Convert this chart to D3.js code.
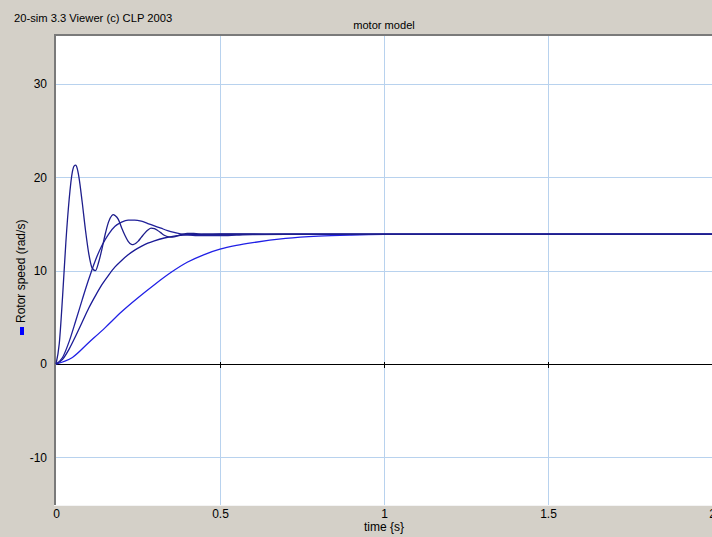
<!DOCTYPE html>
<html>
<head>
<meta charset="utf-8">
<script src="https://cdn.jsdelivr.net/npm/d3@7/dist/d3.min.js"></script>
<style>
  html, body { margin: 0; padding: 0; background: #d4d0c8; }
  svg { display: block; }
  text { font-family: "Liberation Sans", Arial, sans-serif; fill: #000; }
</style>
</head>
<body>
<svg id="chart" width="712" height="537"></svg>
<script>
// ---- data ----
const xTicks = [0, 0.5, 1, 1.5, 2];
const xTickLabels = ["0", "0.5", "1", "1.5", "2"];
const yTicks = [-10, 0, 10, 20, 30];
const yTickLabels = ["-10", "0", "10", "20", "30"];

// run 1: strongly oscillating response
const time1  = [0, 0.01, 0.02, 0.03, 0.04, 0.05, 0.055, 0.06, 0.065, 0.07, 0.08, 0.09, 0.10, 0.11, 0.12, 0.13, 0.14, 0.15, 0.16, 0.17, 0.175, 0.18, 0.19, 0.20, 0.21, 0.22, 0.23, 0.235, 0.24, 0.25, 0.26, 0.27, 0.28, 0.29, 0.30, 0.31, 0.32, 0.33, 0.34, 0.35, 0.36, 0.37, 0.38, 0.39, 0.40, 0.42, 0.45, 0.5, 0.6, 0.8, 1.0, 1.5, 2.0];
const speed1 = [0, 2.2, 7.2, 13.0, 17.6, 20.6, 21.2, 21.3, 20.9, 20.0, 17.3, 14.3, 11.8, 10.3, 10.0, 10.9, 12.3, 13.9, 15.2, 15.9, 16.0, 15.9, 15.5, 14.6, 13.8, 13.15, 12.82, 12.8, 12.86, 13.14, 13.57, 14.0, 14.35, 14.55, 14.5, 14.3, 14.05, 13.8, 13.65, 13.6, 13.63, 13.73, 13.85, 13.95, 14.0, 14.0, 13.9, 13.9, 13.9, 13.9, 13.9, 13.9, 13.9];

// run 2: moderate overshoot
const time2  = [0, 0.02, 0.04, 0.06, 0.08, 0.10, 0.12, 0.14, 0.16, 0.18, 0.20, 0.22, 0.24, 0.26, 0.28, 0.30, 0.32, 0.34, 0.36, 0.38, 0.40, 0.45, 0.50, 0.55, 0.60, 0.70, 1.0, 1.5, 2.0];
const speed2 = [0, 0.7, 2.4, 4.6, 6.9, 9.1, 11.1, 12.7, 13.9, 14.75, 15.2, 15.42, 15.42, 15.3, 15.05, 14.8, 14.55, 14.3, 14.1, 13.95, 13.84, 13.75, 13.75, 13.8, 13.86, 13.9, 13.9, 13.9, 13.9];

// run 3: well damped
const time3  = [0, 0.02, 0.04, 0.06, 0.08, 0.10, 0.12, 0.14, 0.16, 0.18, 0.20, 0.22, 0.24, 0.26, 0.28, 0.30, 0.33, 0.36, 0.40, 0.45, 0.50, 0.60, 0.70, 1.0, 1.5, 2.0];
const speed3 = [0, 0.5, 1.6, 3.0, 4.5, 6.0, 7.3, 8.5, 9.5, 10.4, 11.1, 11.7, 12.2, 12.6, 12.95, 13.2, 13.5, 13.7, 13.85, 13.9, 13.95, 13.95, 13.9, 13.9, 13.9, 13.9];

// run 4: slow response
const time4  = [0, 0.05, 0.10, 0.15, 0.20, 0.25, 0.30, 0.35, 0.40, 0.45, 0.50, 0.55, 0.60, 0.70, 0.80, 0.90, 1.0, 1.2, 1.5, 2.0];
const speed4 = [0, 0.7, 2.3, 3.9, 5.6, 7.1, 8.5, 9.8, 10.9, 11.7, 12.3, 12.7, 13.0, 13.45, 13.7, 13.82, 13.88, 13.9, 13.9, 13.9];

const runs = [
  { t: time1, v: speed1, color: "#1e1e8c" },
  { t: time2, v: speed2, color: "#20209a" },
  { t: time3, v: speed3, color: "#1a1a96" },
  { t: time4, v: speed4, color: "#2020e6" }
];

// ---- layout ----
const svg = d3.select("#chart");
const W = 712, H = 537;
const pLeft = 56, pRight = 712, pTop = 36, pBottom = 505;

const x = d3.scaleLinear().domain([0, 2]).range([pLeft, pRight]);
const y = d3.scaleLinear().domain([-15, 35]).range([504, 37.33]);

svg.append("rect").attr("width", W).attr("height", H).attr("fill", "#d4d0c8");

// header texts
svg.append("text").attr("x", 14).attr("y", 21.5)
  .style("font-size", "11.2px").text("20-sim 3.3 Viewer (c) CLP 2003");
svg.append("text").attr("x", x(1)).attr("y", 29.3).attr("text-anchor", "middle")
  .style("font-size", "11.1px").text("motor model");

// plot area
svg.append("rect").attr("x", pLeft).attr("y", pTop)
  .attr("width", pRight - pLeft).attr("height", pBottom - pTop).attr("fill", "#ffffff");
svg.append("line").attr("x1", 54).attr("x2", W).attr("y1", 35).attr("y2", 35)
  .attr("stroke", "#7a7a7a").attr("stroke-width", 2);
svg.append("line").attr("x1", 55).attr("x2", 55).attr("y1", 34).attr("y2", pBottom)
  .attr("stroke", "#7a7a7a").attr("stroke-width", 2);
svg.append("line").attr("x1", 54).attr("x2", W).attr("y1", pBottom + 0.5).attr("y2", pBottom + 0.5)
  .attr("stroke", "#f4f4f4").attr("stroke-width", 1);

// grid
const grid = svg.append("g").attr("shape-rendering", "crispEdges");
grid.selectAll(".gx").data(xTicks.filter(d => d > 0 && d < 2)).enter().append("line")
  .attr("x1", d => Math.round(x(d)) + 0.5).attr("x2", d => Math.round(x(d)) + 0.5)
  .attr("y1", pTop).attr("y2", pBottom)
  .attr("stroke", "#b8d2ee").attr("stroke-width", 1);
grid.selectAll(".gy").data(yTicks.filter(d => d !== 0)).enter().append("line")
  .attr("x1", pLeft).attr("x2", pRight)
  .attr("y1", d => Math.round(y(d)) + 0.5).attr("y2", d => Math.round(y(d)) + 0.5)
  .attr("stroke", "#b8d2ee").attr("stroke-width", 1);

// zero axis with ticks
const zeroY = Math.round(y(0)) + 0.5;
svg.append("line").attr("x1", pLeft).attr("x2", pRight).attr("y1", zeroY).attr("y2", zeroY)
  .attr("stroke", "#000").attr("stroke-width", 1).attr("shape-rendering", "crispEdges");
svg.selectAll(".zt").data(xTicks.filter(d => d > 0 && d < 2)).enter().append("line")
  .attr("x1", d => Math.round(x(d)) + 0.5).attr("x2", d => Math.round(x(d)) + 0.5)
  .attr("y1", zeroY - 3).attr("y2", zeroY + 3)
  .attr("stroke", "#000").attr("stroke-width", 1).attr("shape-rendering", "crispEdges");

// axes (labels only)
const yAxis = svg.append("g").attr("transform", `translate(55,0)`)
  .call(d3.axisLeft(y).tickValues(yTicks).tickFormat((d, i) => yTickLabels[i]).tickSize(0).tickPadding(8));
yAxis.select(".domain").remove();
yAxis.selectAll("text").style("font-size", "12px").attr("fill", "#000")
  .style("font-family", "'Liberation Sans', Arial, sans-serif");

const xAxis = svg.append("g").attr("transform", `translate(0,${pBottom})`)
  .call(d3.axisBottom(x).tickValues(xTicks).tickFormat((d, i) => xTickLabels[i]).tickSize(0).tickPadding(4));
xAxis.select(".domain").remove();
xAxis.selectAll("text").style("font-size", "12px").attr("fill", "#000")
  .style("font-family", "'Liberation Sans', Arial, sans-serif");

svg.append("text").attr("x", x(1)).attr("y", 531).attr("text-anchor", "middle")
  .style("font-size", "12px").text("time {s}");

// y label with legend marker
svg.append("text").attr("transform", "translate(25,323) rotate(-90)")
  .attr("text-anchor", "start").style("font-size", "12px").text("Rotor speed (rad/s)");
svg.append("rect").attr("x", 20).attr("y", 327).attr("width", 4).attr("height", 8).attr("fill", "#0000ff");

// curves
const line = d3.line().x(d => x(d[0])).y(d => y(d[1])).curve(d3.curveMonotoneX);
const plot = svg.append("g");
runs.slice().reverse().forEach(r => {
  plot.append("path")
    .datum(r.t.map((t, i) => [t, r.v[i]]))
    .attr("d", line)
    .attr("fill", "none")
    .attr("stroke", r.color)
    .attr("stroke-width", 1.3);
});
</script>
</body>
</html>
